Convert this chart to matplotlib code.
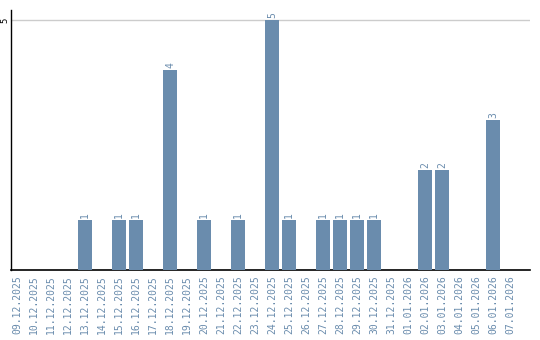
import matplotlib
matplotlib.use("Agg")
import matplotlib.pyplot as plt
import pandas as pd

start = "2025-12-09"
n_days = 30
counts = {
    "13.12.2025": 1, "15.12.2025": 1, "16.12.2025": 1, "18.12.2025": 4,
    "20.12.2025": 1, "22.12.2025": 1, "24.12.2025": 5, "25.12.2025": 1,
    "27.12.2025": 1, "28.12.2025": 1, "29.12.2025": 1, "30.12.2025": 1,
    "02.01.2026": 2, "03.01.2026": 2, "06.01.2026": 3,
}

dates = [d.strftime("%d.%m.%Y") for d in pd.date_range(start, periods=n_days)]
values = [counts.get(d, 0) for d in dates]

bar_color = "#6a8cad"
font = "DejaVu Sans Mono"

fig = plt.figure(figsize=(5.4, 3.4), dpi=100)
ax = fig.add_axes([11 / 540, 1 - 270 / 340, 519 / 540, 260 / 340])

x = list(range(n_days))
ax.bar(x, values, width=0.82, color=bar_color, zorder=3)
for xi, v in zip(x, values):
    if v > 0:
        ax.text(xi, v + 0.04, str(v), rotation=90, ha="center", va="bottom",
                fontsize=7, color=bar_color, family=font)

ax.set_xlim(-6 / 17, 513 / 17)
ax.set_ylim(0, 5.2)
ax.set_yticks([5])
ax.set_yticklabels(["5"], rotation=90, va="center", fontsize=6.5, family=font)
ax.tick_params(axis="y", length=0, pad=1.5)
ax.yaxis.grid(True, color="#cccccc", linewidth=1, zorder=0)

ax.set_xticks(x)
ax.set_xticklabels(dates, rotation=90, fontsize=7, color=bar_color, family=font)
ax.tick_params(axis="x", length=0, pad=4)

for s in ["top", "right"]:
    ax.spines[s].set_visible(False)
ax.spines["left"].set_linewidth(1)
ax.spines["bottom"].set_linewidth(1.2)

fig.savefig("out.png", dpi=100)
